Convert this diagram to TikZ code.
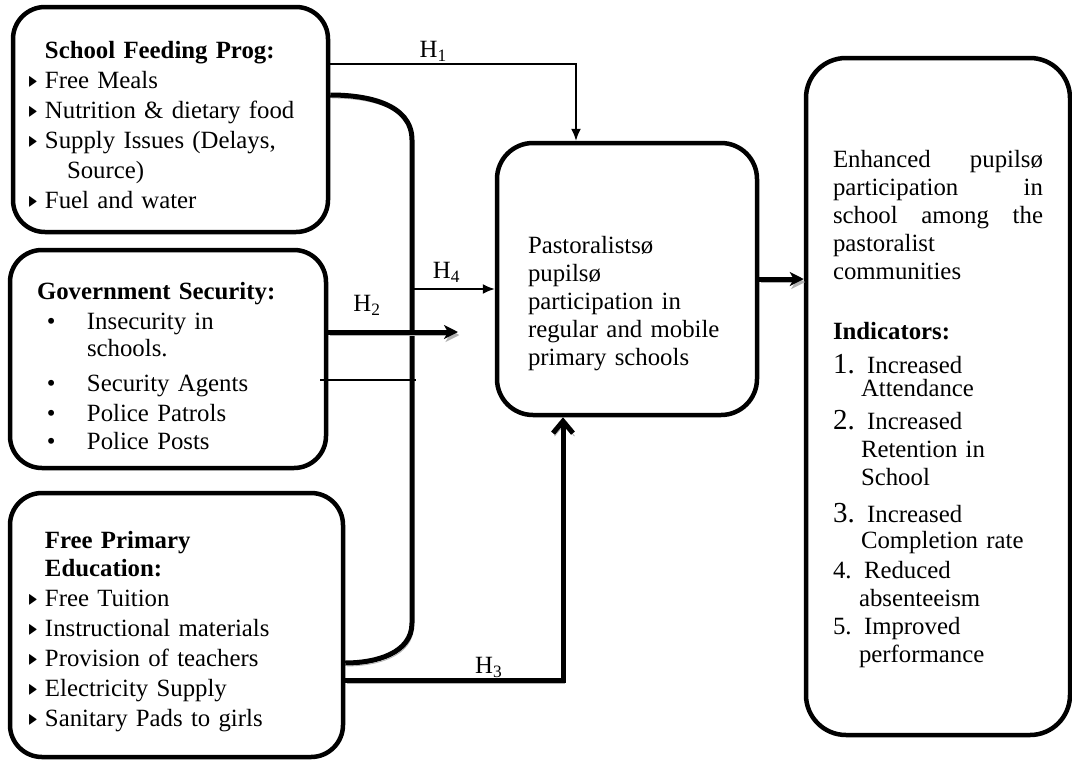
\documentclass[tikz,border=0pt]{standalone}
\usepackage{amssymb}
\usepackage{fontspec}
\setmainfont{Liberation Serif}
\usepackage{tikz}
\usetikzlibrary{arrows.meta,positioning}

\newcommand{\tribul}{\makebox[8.5pt][l]{\raisebox{1pt}{\scalebox{0.5}[0.75]{$\blacktriangleright$}}}}
\newcommand{\dotbul}{\hspace*{5pt}\makebox[20pt][l]{\textbullet}}
\newcommand{\bignum}[1]{{\fontsize{14.5}{14}\selectfont #1}}

\begin{document}
\begin{tikzpicture}[
    x=0.5pt, y=-0.5pt,
    font=\fontsize{12.4}{15}\selectfont,
    factor/.style={
		rectangle,
		rounded corners=16pt,
		draw=black,
		line width=2.25pt,
		align=left,
		fill=white
	},
	thinline/.style={
		line width=0.8pt
	},
	thickline/.style={
		line width=2.5pt,
		preaction={draw=gray!60, transform canvas={shift={(0.75pt,-1.5pt)}}}
	},
	hlabel/.style={
		above, inner sep=1pt
	}
  ]
    \useasboundingbox (0,0) rectangle (1072,761);

    % the boxes
  \node [factor, minimum width=157.5pt, minimum height=112.5pt, text width=142.5pt] (sfp) at (170.5,119.5)
 {%
  \rule{0pt}{14.5pt}\hspace*{8.5pt}\textbf{School Feeding Prog:}\\
  \tribul Free Meals\\
  \tribul Nutrition \& dietary food\\
  \tribul Supply Issues (Delays,\\
  \hspace*{19.5pt}Source)\\
  \tribul Fuel and water
 };

  \node [factor, minimum width=158pt, minimum height=109pt, text width=131pt] (govsec) at (168,359)
 {%
  \rule{0pt}{15.5pt}\textbf{Government Security:}\\
  \dotbul Insecurity in\\[-1.5pt]
  \hspace*{25pt}schools.\\[2.5pt]
  \dotbul Security Agents\\
  \dotbul Police Patrols\\[-1pt]
  \dotbul Police Posts
 };

  \node [factor, minimum width=166.5pt, minimum height=132pt, text width=148.5pt] (fpe) at (176.5,625)
 {%
  \rule{0pt}{15pt}\hspace*{8.5pt}\textbf{Free Primary}\\[-1pt]
  \hspace*{8.5pt}\textbf{Education:}\\
  \tribul Free Tuition\\
  \tribul Instructional materials\\
  \tribul Provision of teachers\\
  \tribul Electricity Supply\\
  \tribul Sanitary Pads to girls
 };

  \node [factor, rounded corners=18pt, minimum width=130pt, minimum height=136pt, text width=99pt,
         font=\fontsize{12.4}{14}\selectfont] (particip) at (627,279)
 {%
  \rule{0pt}{33pt}Pastoralistsø\\
  pupilsø\\
  participation in\\
  regular and mobile\\
  primary schools
 };

  \node [factor, rounded corners=20pt, minimum width=132pt, minimum height=338.5pt, text width=105pt,
         font=\fontsize{12.4}{14}\selectfont] (outcome) at (938,396.5)
 {%
  \rule{0pt}{21pt}Enhanced\hfill pupilsø\\
  participation\hfill in\\
  school\hfill among\hfill the\\
  pastoralist\\
  communities\\[16pt]
  \textbf{Indicators:}\\[3pt]
  \bignum{1.} Increased\\[-2.5pt]
  \hspace*{14pt}Attendance\\[2.5pt]
  \bignum{2.} Increased\\
  \hspace*{14pt}Retention in\\
  \hspace*{14pt}School\\[4.5pt]
  \bignum{3.} Increased\\[-1pt]
  \hspace*{14pt}Completion rate\\[1pt]
  4. Reduced\\
  \hspace*{13pt}absenteeism\\
  5. Improved\\
  \hspace*{13pt}performance
 };

 \coordinate (brktop) at (412,140);
 \coordinate (brkbot) at (412,623);
 \coordinate (h2end) at (458,332);
 \coordinate (h4start) at (412,289);
 \coordinate (crossl) at (320,380);
 \coordinate (crossr) at (416,380);

 % the links
 \draw [thinline, -{Latex[length=6pt,width=5pt]}] ([yshift=27.75pt]sfp.east) -| node [hlabel, pos=0.21] {H\textsubscript{1}} ([xshift=-25.5pt]particip.north);
 \draw [thickline] ([yshift=12.25pt]sfp.east) to[out=0,in=90] (brktop) -- (brkbot) to[out=-90,in=0] ([yshift=-19pt]fpe.east);
 \draw [thickline, -{Stealth[length=7pt,width=7pt,inset=2pt]}] ([yshift=13.5pt]govsec.east) -- node [hlabel, pos=0.3, yshift=6pt] {H\textsubscript{2}} (h2end);
 \draw [thinline, -{Latex[length=6pt,width=5pt]}] (h4start) -- node [hlabel, pos=0.42, yshift=2pt] {H\textsubscript{4}} ([yshift=-5pt]particip.west);
 \draw [thinline] (crossl) -- (crossr);
 \draw [thickline, -{Straight Barb[length=6pt,width=10pt]}] ([yshift=-27.5pt]fpe.east) -| node [hlabel, pos=0.33, inner sep=0pt] {H\textsubscript{3}} ([xshift=-32pt]particip.south);
 \draw [thickline, -{Stealth[length=7pt,width=7pt,inset=2pt]}] (particip.east) -- (particip.east -| outcome.west);

\end{tikzpicture}
\end{document}
